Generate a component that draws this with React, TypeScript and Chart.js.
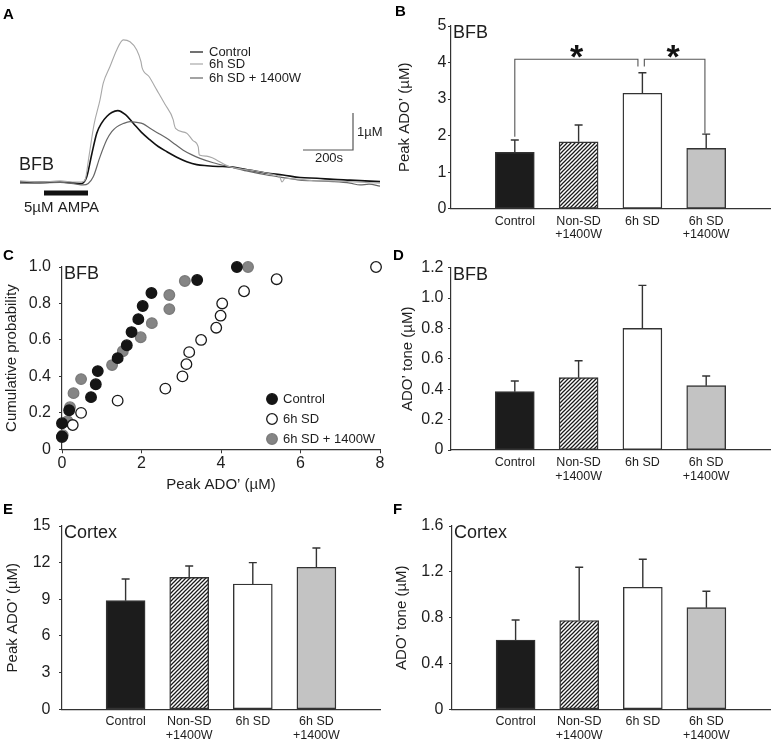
import React, { useEffect, useRef } from "react";
import { Chart, registerables } from "chart.js";
Chart.register(...registerables);

const FONT = "'Liberation Sans', Arial, Helvetica, sans-serif";
const INK = "#1e1e1e";
const AXIS = "#333333";

// ---------- Panel A: example traces (s from AMPA onset, ADO' in µM) ----------
const ctrlT = [-96, -16, 64, 124, 151, 171, 191, 211, 231, 251, 271, 295, 326, 357, 390, 424, 457, 491, 531, 571, 611, 652, 696, 744, 824, 890, 956, 1024, 1092, 1157, 1224, 1344];
const ctrlV = [0.0, -0.01, 0.0, -0.03, -0.04, 0.14, 0.75, 1.32, 1.6, 1.77, 1.88, 1.93, 1.82, 1.59, 1.34, 1.14, 0.96, 0.82, 0.67, 0.55, 0.47, 0.44, 0.42, 0.41, 0.32, 0.24, 0.19, 0.12, 0.1, 0.07, 0.05, 0.01];
const sdT = [-96, -16, 64, 124, 150, 164, 180, 200, 224, 237, 264, 291, 317, 344, 371, 388, 392, 420, 451, 484, 517, 521, 526, 571, 596, 617, 621, 650, 677, 710, 744, 824, 904, 944, 952, 964, 1024, 1096, 1156, 1244, 1344];
const sdV = [0.03, 0.0, 0.03, 0.0, 0.0, 0.05, 0.7, 1.55, 2.22, 2.67, 3.12, 3.57, 3.84, 3.79, 3.57, 3.25, 3.1, 2.85, 2.49, 2.1, 1.68, 1.55, 1.45, 1.32, 1.12, 0.95, 0.73, 0.7, 0.64, 0.52, 0.41, 0.32, 0.22, 0.12, 0.0, 0.1, 0.07, 0.03, 0.03, 0.0, -0.03];
const sdwT = [-96, -16, 64, 124, 157, 177, 197, 224, 251, 271, 291, 317, 344, 371, 397, 424, 457, 491, 524, 557, 590, 624, 677, 744, 810, 891, 956, 1024, 1090, 1157, 1224, 1264, 1300, 1344];
const sdwV = [-0.03, -0.03, -0.01, -0.05, -0.08, -0.04, 0.14, 0.68, 1.14, 1.36, 1.49, 1.58, 1.63, 1.61, 1.57, 1.45, 1.32, 1.18, 1.02, 0.86, 0.74, 0.64, 0.52, 0.41, 0.3, 0.19, 0.12, 0.05, 0.03, 0.01, -0.03, -0.08, -0.06, -0.11];
const ampaT = [0, 176];
const ampaV = [-0.3, -0.3];
const scaleBarT = [1036, 1236, 1236];
const scaleBarV = [0.865, 0.865, 1.865];
const traceLegend = ["Control", "6h SD", "6h SD + 1400W"];

// ---------- Bar panels ----------
const groupLabels: (string | string[])[] = ["Control", ["Non-SD", "+1400W"], "6h SD", ["6h SD", "+1400W"]];
const bfbPeakMean = [1.54, 1.83, 3.16, 1.65];
const bfbPeakSem = [0.34, 0.46, 0.56, 0.39];
const bfbToneMean = [0.384, 0.476, 0.8, 0.423];
const bfbToneSem = [0.07, 0.111, 0.283, 0.064];
const ctxPeakMean = [8.89, 10.8, 10.25, 11.62];
const ctxPeakSem = [1.77, 0.93, 1.75, 1.58];
const ctxToneMean = [0.605, 0.775, 1.065, 0.887];
const ctxToneSem = [0.175, 0.465, 0.245, 0.143];

// significance brackets (category index, µM) in panel B
const sigAX = [1, 1, 2.93, 2.93];
const sigAY = [1.97, 4.09, 4.09, 3.89];
const sigBX = [3.03, 3.03, 3.98, 3.98];
const sigBY = [3.89, 4.09, 4.09, 2.06];
const starX = [1.97, 3.48];
const starY = [4.34, 4.34];

// ---------- Panel C: cumulative distributions ----------
const cdfCtrlX = [0.0, 0.0, 0.18, 0.73, 0.85, 0.9, 1.4, 1.63, 1.75, 1.92, 2.03, 2.25, 3.4, 4.4];
const cdfCtrlY = [0.071, 0.143, 0.214, 0.286, 0.357, 0.429, 0.5, 0.571, 0.643, 0.714, 0.786, 0.857, 0.929, 1.0];
const cdfSdX = [0.0, 0.27, 0.48, 1.4, 2.6, 3.03, 3.13, 3.2, 3.5, 3.88, 3.99, 4.03, 4.58, 5.4, 7.9];
const cdfSdY = [0.067, 0.133, 0.2, 0.267, 0.333, 0.4, 0.467, 0.533, 0.6, 0.667, 0.733, 0.8, 0.867, 0.933, 1.0];
const cdfSdwX = [0.02, 0.14, 0.2, 0.29, 0.48, 1.26, 1.53, 1.98, 2.26, 2.7, 2.7, 3.09, 4.68];
const cdfSdwY = [0.077, 0.154, 0.231, 0.308, 0.385, 0.462, 0.538, 0.615, 0.692, 0.769, 0.846, 0.923, 1.0];
const cdfLegend = ["Control", "6h SD", "6h SD + 1400W"];

const PANELS = [
  { x: 0, y: 0, w: 390, h: 240 },   // A
  { x: 390, y: 0, w: 386, h: 245 }, // B
  { x: 0, y: 245, w: 390, h: 255 }, // C
  { x: 390, y: 245, w: 386, h: 250 }, // D
  { x: 0, y: 500, w: 390, h: 245 }, // E
  { x: 390, y: 500, w: 386, h: 245 }, // F
];

function txt(ctx: CanvasRenderingContext2D, s: string, x: number, y: number, size: number, o: any = {}) {
  ctx.font = `${o.bold ? "bold " : ""}${size}px ${FONT}`;
  ctx.fillStyle = o.color || INK;
  ctx.textAlign = o.align || "left";
  ctx.textBaseline = o.baseline || "middle";
  ctx.fillText(s, x, y);
}

function pts(xs: number[], ys: number[]) {
  return xs.map((x, i) => ({ x, y: ys[i] }));
}

function makeHatch(): CanvasPattern | string {
  const c = document.createElement("canvas");
  c.width = 4;
  c.height = 4;
  const g = c.getContext("2d");
  if (!g) return "#888";
  g.fillStyle = "#ffffff";
  g.fillRect(0, 0, 4, 4);
  g.strokeStyle = "#1a1a1a";
  g.lineWidth = 1.25;
  g.beginPath();
  g.moveTo(-1, 5);
  g.lineTo(5, -1);
  g.moveTo(-1, 1);
  g.lineTo(1, -1);
  g.moveTo(3, 5);
  g.lineTo(5, 3);
  g.stroke();
  return g.createPattern(c, "repeat") || "#888";
}

function configA(): any {
  const decor = {
    id: "decorA",
    afterDraw(chart: any) {
      const ctx = chart.ctx as CanvasRenderingContext2D;
      ctx.save();
      txt(ctx, "A", 3, 15, 15, { bold: true, color: "#000" });
      const cols = ["#111111", "#a8a8a8", "#666666"];
      const ys = [52, 64, 78];
      traceLegend.forEach((lab, i) => {
        ctx.strokeStyle = cols[i];
        ctx.lineWidth = 1.2;
        ctx.beginPath();
        ctx.moveTo(190, ys[i]);
        ctx.lineTo(203, ys[i]);
        ctx.stroke();
        txt(ctx, lab, 209, ys[i], 13);
      });
      txt(ctx, "1\u00b5M", 357, 132, 13);
      txt(ctx, "200s", 329, 158, 13, { align: "center" });
      txt(ctx, "BFB", 19, 165, 18);
      txt(ctx, "5\u00b5M AMPA", 24, 208, 15);
      ctx.restore();
    },
  };
  const line = (data: any, color: string, w: number) => ({
    data,
    borderColor: color,
    borderWidth: w,
    pointRadius: 0,
    cubicInterpolationMode: "monotone",
    fill: false,
  });
  return {
    type: "line",
    data: {
      datasets: [
        line(pts(sdT, sdV), "#a8a8a8", 1.1),
        line(pts(sdwT, sdwV), "#666666", 1.2),
        line(pts(ctrlT, ctrlV), "#111111", 1.6),
        { data: pts(ampaT, ampaV), borderColor: "#111", borderWidth: 5, pointRadius: 0, borderCapStyle: "butt", tension: 0 },
        { data: pts(scaleBarT, scaleBarV), borderColor: "#555", borderWidth: 1.2, pointRadius: 0, tension: 0, borderCapStyle: "butt" },
      ],
    },
    options: {
      responsive: false,
      animation: false,
      layout: { padding: { left: 9, right: 6, top: 34, bottom: 39.5 } },
      plugins: { legend: { display: false }, tooltip: { enabled: false } },
      scales: {
        x: { type: "linear", min: -140, max: 1360, display: false },
        y: { type: "linear", min: -0.5, max: 4.0, display: false },
      },
    },
    plugins: [decor],
  };
}

function errorBarPlugin(sems: number[]) {
  return {
    id: "errbars",
    afterDatasetsDraw(chart: any) {
      const ctx = chart.ctx as CanvasRenderingContext2D;
      const meta = chart.getDatasetMeta(0);
      const ys = chart.scales.y;
      const data = chart.data.datasets[0].data;
      ctx.save();
      ctx.strokeStyle = AXIS;
      ctx.lineWidth = 1.4;
      for (let i = 1; i <= sems.length; i++) {
        const el = meta.data[i];
        const v = data[i];
        if (!el || v == null) continue;
        const top = ys.getPixelForValue(v + sems[i - 1]);
        ctx.beginPath();
        ctx.moveTo(el.x, el.y);
        ctx.lineTo(el.x, top);
        ctx.moveTo(el.x - 4, top);
        ctx.lineTo(el.x + 4, top);
        ctx.stroke();
      }
      ctx.restore();
    },
  };
}

function barConfig(p: any): any {
  const hatch = makeHatch();
  const fills = ["rgba(0,0,0,0)", "#1c1c1c", hatch, "#ffffff", "#c3c3c3", "rgba(0,0,0,0)"];
  const decor = {
    id: "decorBar",
    afterDraw(chart: any) {
      const ctx = chart.ctx as CanvasRenderingContext2D;
      const ca = chart.chartArea;
      ctx.save();
      txt(ctx, p.letter, p.letterX, p.letterY, 15, { bold: true, color: "#000" });
      txt(ctx, p.region, ca.left + 2, ca.top + 7, 18);
      if (p.extra) p.extra(chart, ctx);
      ctx.restore();
    },
  };
  return {
    type: "bar",
    data: {
      labels: ["", ...groupLabels, ""],
      datasets: [
        {
          data: [null, ...p.means, null],
          backgroundColor: fills,
          borderColor: AXIS,
          borderWidth: 1.4,
          borderSkipped: false,
          barThickness: 39,
        },
      ],
    },
    options: {
      responsive: false,
      animation: false,
      layout: { padding: { left: 0, right: p.padRight, top: p.padTop, bottom: 0 } },
      plugins: { legend: { display: false }, tooltip: { enabled: false } },
      scales: {
        x: {
          type: "category",
          offset: false,
          grid: { display: false },
          border: { display: true, color: AXIS, width: 1.2 },
          ticks: {
            autoSkip: false,
            maxRotation: 0,
            minRotation: 0,
            padding: -2,
            color: INK,
            font: { family: FONT, size: 12.5, lineHeight: 1.07 },
          },
          afterFit: (s: any) => {
            s.height = p.xAxisH;
          },
        },
        y: {
          type: "linear",
          min: 0,
          max: p.yMax,
          ticks: {
            stepSize: p.yStep,
            padding: p.tickPad,
            color: INK,
            font: { family: FONT, size: 16 },
            callback: (v: any) => (Number(v) === 0 ? "0" : Number(v).toFixed(p.decimals)),
          },
          grid: { display: true, drawOnChartArea: false, tickLength: 3, color: AXIS },
          border: { display: true, color: AXIS, width: 1.2 },
          title: {
            display: true,
            text: p.yTitle,
            color: INK,
            font: { family: FONT, size: 15 },
            padding: { top: p.titlePad, bottom: 0 },
          },
          afterFit: (s: any) => {
            s.width = p.yAxisW;
          },
        },
      },
    },
    plugins: [errorBarPlugin(p.sems), decor],
  };
}

function drawSig(chart: any, ctx: CanvasRenderingContext2D) {
  const xs = chart.scales.x;
  const ys = chart.scales.y;
  ctx.strokeStyle = "#555";
  ctx.lineWidth = 1.1;
  [[sigAX, sigAY], [sigBX, sigBY]].forEach(([bx, by]) => {
    ctx.beginPath();
    bx.forEach((x, i) => {
      const px = xs.getPixelForValue(x);
      const py = ys.getPixelForValue(by[i]);
      if (i === 0) ctx.moveTo(px, py);
      else ctx.lineTo(px, py);
    });
    ctx.stroke();
  });
  const size = 34;
  starX.forEach((x, i) => {
    const px = xs.getPixelForValue(x);
    const py = ys.getPixelForValue(starY[i]);
    txt(ctx, "*", px, py + size * 0.54, size, { bold: true, align: "center", baseline: "alphabetic", color: "#111" });
  });
}

function configC(): any {
  const decor = {
    id: "decorC",
    afterDraw(chart: any) {
      const ctx = chart.ctx as CanvasRenderingContext2D;
      const ca = chart.chartArea;
      ctx.save();
      txt(ctx, "C", 3, 10.5, 15, { bold: true, color: "#000" });
      txt(ctx, "BFB", ca.left + 2, ca.top + 7, 18);
      const fills = ["#151515", "#ffffff", "#858585"];
      const strokes = ["#151515", "#1a1a1a", "#7a7a7a"];
      const ys = [154, 174, 194];
      cdfLegend.forEach((lab, i) => {
        ctx.beginPath();
        ctx.arc(272, ys[i], 5.3, 0, Math.PI * 2);
        ctx.fillStyle = fills[i];
        ctx.fill();
        ctx.strokeStyle = strokes[i];
        ctx.lineWidth = 1.3;
        ctx.stroke();
        txt(ctx, lab, 283, ys[i], 13);
      });
      ctx.restore();
    },
  };
  const ds = (label: string, data: any, fill: string, stroke: string) => ({
    label,
    data,
    pointRadius: 5.3,
    pointBackgroundColor: fill,
    pointBorderColor: stroke,
    pointBorderWidth: 1.3,
    clip: false,
  });
  return {
    type: "scatter",
    data: {
      datasets: [
        ds("Control", pts(cdfCtrlX, cdfCtrlY), "#151515", "#151515"),
        ds("6h SD", pts(cdfSdX, cdfSdY), "#ffffff", "#1a1a1a"),
        ds("6h SD + 1400W", pts(cdfSdwX, cdfSdwY), "#858585", "#7a7a7a"),
      ],
    },
    options: {
      responsive: false,
      animation: false,
      layout: { padding: { left: 0, right: 10, top: 22, bottom: 0 } },
      plugins: { legend: { display: false }, tooltip: { enabled: false } },
      scales: {
        x: {
          type: "linear",
          min: 0,
          max: 8,
          ticks: { stepSize: 2, padding: 1, color: INK, font: { family: FONT, size: 16 } },
          grid: { display: true, drawOnChartArea: false, tickLength: 4, color: AXIS },
          border: { display: true, color: AXIS, width: 1.2 },
          title: {
            display: true,
            text: "Peak ADO\u2019 (\u00b5M)",
            color: INK,
            font: { family: FONT, size: 15 },
            padding: { top: 0, bottom: 6 },
          },
          afterFit: (s: any) => {
            s.height = 50.7;
          },
        },
        y: {
          type: "linear",
          min: 0,
          max: 1,
          ticks: {
            stepSize: 0.2,
            padding: 8,
            color: INK,
            font: { family: FONT, size: 16 },
            callback: (v: any) => (Number(v) === 0 ? "0" : Number(v).toFixed(1)),
          },
          grid: { display: true, drawOnChartArea: false, tickLength: 3, color: AXIS },
          border: { display: true, color: AXIS, width: 1.2 },
          title: {
            display: true,
            text: "Cumulative probability",
            color: INK,
            font: { family: FONT, size: 15 },
            padding: { top: 3, bottom: 0 },
          },
          afterFit: (s: any) => {
            s.width = 62;
          },
        },
      },
    },
    plugins: [decor],
  };
}

export default function App() {
  const r0 = useRef<HTMLCanvasElement>(null);
  const r1 = useRef<HTMLCanvasElement>(null);
  const r2 = useRef<HTMLCanvasElement>(null);
  const r3 = useRef<HTMLCanvasElement>(null);
  const r4 = useRef<HTMLCanvasElement>(null);
  const r5 = useRef<HTMLCanvasElement>(null);
  const refs = [r0, r1, r2, r3, r4, r5];

  useEffect(() => {
    const charts: Chart[] = [];
    const cfgs = [
      configA(),
      barConfig({
        means: bfbPeakMean, sems: bfbPeakSem, yMax: 5, yStep: 1, decimals: 0,
        yTitle: "Peak ADO\u2019 (\u00b5M)", titlePad: 6, tickPad: 1.5, yAxisW: 61,
        padTop: 26, padRight: 6, xAxisH: 36.3, region: "BFB", letter: "B", letterX: 5, letterY: 12,
        extra: drawSig,
      }),
      configC(),
      barConfig({
        means: bfbToneMean, sems: bfbToneSem, yMax: 1.2, yStep: 0.2, decimals: 1,
        yTitle: "ADO\u2019 tone (\u00b5M)", titlePad: 9, tickPad: 4.5, yAxisW: 61,
        padTop: 22.6, padRight: 6, xAxisH: 45, region: "BFB", letter: "D", letterX: 3, letterY: 11,
      }),
      barConfig({
        means: ctxPeakMean, sems: ctxPeakSem, yMax: 15, yStep: 3, decimals: 0,
        yTitle: "Peak ADO\u2019 (\u00b5M)", titlePad: 4, tickPad: 8.5, yAxisW: 62,
        padTop: 26, padRight: 10, xAxisH: 35.7, region: "Cortex", letter: "E", letterX: 3, letterY: 10,
      }),
      barConfig({
        means: ctxToneMean, sems: ctxToneSem, yMax: 1.6, yStep: 0.4, decimals: 1,
        yTitle: "ADO\u2019 tone (\u00b5M)", titlePad: 3, tickPad: 5.5, yAxisW: 62,
        padTop: 26, padRight: 6, xAxisH: 35.7, region: "Cortex", letter: "F", letterX: 3, letterY: 10,
      }),
    ];
    cfgs.forEach((cfg, i) => {
      const c = refs[i].current;
      if (c) charts.push(new Chart(c, cfg));
    });
    return () => charts.forEach((c) => c.destroy());
  }, []);

  return (
    <div style={{ position: "absolute", left: 0, top: 0, width: 776, height: 745, background: "#fff", overflow: "hidden" }}>
      {PANELS.map((p, i) => (
        <canvas
          key={i}
          ref={refs[i]}
          width={p.w}
          height={p.h}
          style={{ position: "absolute", left: p.x, top: p.y, width: p.w, height: p.h }}
        />
      ))}
    </div>
  );
}
